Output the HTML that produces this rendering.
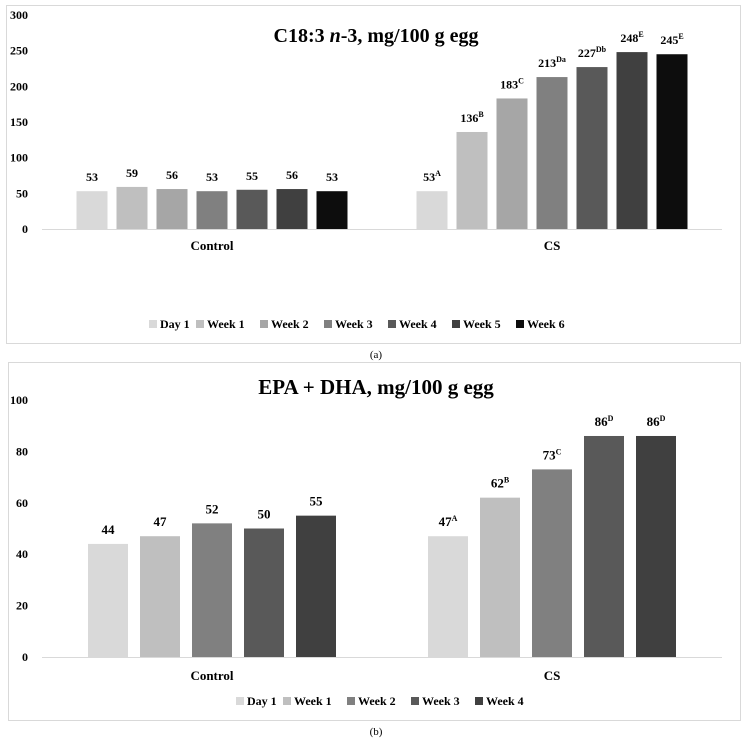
<!DOCTYPE html>
<html><head><meta charset="utf-8"><style>
body{margin:0;background:#fff;}
svg{display:block;font-family:"Liberation Serif",serif;font-weight:bold;}
</style></head><body>
<svg id="svg" width="752" height="743" viewBox="0 0 752 743">
<rect x="6.5" y="5.5" width="734" height="338" fill="#fff" stroke="#d9d9d9"/>
<rect x="8.5" y="362.5" width="732" height="358" fill="#fff" stroke="#d9d9d9"/>
<text x="376" y="42" font-size="20" text-anchor="middle">C18:3 <tspan font-style="italic">n</tspan>-3, mg/100 g egg</text>
<text x="376" y="394" font-size="21" text-anchor="middle">EPA + DHA, mg/100 g egg</text>
<text x="376" y="358" font-size="11" font-weight="normal" text-anchor="middle">(a)</text>
<text x="376" y="735" font-size="11" font-weight="normal" text-anchor="middle">(b)</text>
<g id="ga"></g><g id="gb"></g>
</svg>
<script>
const groupsA = ["Control","CS"];
const seriesA = ["Day 1","Week 1","Week 2","Week 3","Week 4","Week 5","Week 6"];
const controlA = [53,59,56,53,55,56,53];
const csA = [53,136,183,213,227,248,245];
const csSupA = ["A","B","C","Da","Db","E","E"];
const ticksA = [0,50,100,150,200,250,300];
const colorsA = ["#d9d9d9","#bfbfbf","#a6a6a6","#808080","#595959","#404040","#0d0d0d"];

const groupsB = ["Control","CS"];
const seriesB = ["Day 1","Week 1","Week 2","Week 3","Week 4"];
const controlB = [44,47,52,50,55];
const csB = [47,62,73,86,86];
const csSupB = ["A","B","C","D","D"];
const ticksB = [0,20,40,60,80,100];
const colorsB = ["#d9d9d9","#bfbfbf","#808080","#595959","#404040"];

const NS="http://www.w3.org/2000/svg";
function mk(parent,tag,attrs,text){const e=document.createElementNS(NS,tag);for(const k in attrs)e.setAttribute(k,attrs[k]);if(text!==undefined)e.textContent=text;parent.appendChild(e);return e;}

function draw(g,cfg){
  const {groups,series,vals,sups,ticks,colors,y0,y1,vmax,x0,x1,barW,step,labelY,legendY,legendX,fs}=cfg;
  const y=v=>y0-(v/vmax)*(y0-y1);
  ticks.forEach(t=>{
    const e=mk(g,'text',{x:x0-14,y:y(t)+4,'font-size':12,'text-anchor':'end'},t);
    
    
  });
  const ax=mk(g,'line',{x1:x0,x2:x1,y1:y0+0.5,y2:y0+0.5,stroke:'#d9d9d9','stroke-width':1});
  
  
  const gw=(x1-x0)/groups.length;
  groups.forEach((gname,gi)=>{
    const cx=x0+gw*(gi+0.5);
    const lab=mk(g,'text',{x:cx,y:labelY,'font-size':13,'text-anchor':'middle'},gname);
    
    
    const arr=vals[gi];
    const n=arr.length;
    const start=cx-(n*step-(step-barW))/2;
    arr.forEach((v,i)=>{
      const bx=start+i*step;
      const r=mk(g,'rect',{x:bx,y:y(v),width:barW,height:y0-y(v),fill:colors[i]});
      
      
      const t=mk(g,'text',{x:bx+barW/2,y:y(v)-10,'font-size':fs,'text-anchor':'middle'});
      t.textContent=v;
      if(gi===1){mk(t,'tspan',{'font-size':8,dy:-5},sups[i]);}
      
      
    });
  });
  let lx=legendX;
  series.forEach((s,i)=>{
    const sq=mk(g,'rect',{x:lx,y:legendY-8,width:8,height:8,fill:colors[i]});
    
    
    const t=mk(g,'text',{x:lx+11,y:legendY,'font-size':12},s);
    
    
    lx+= s.length>5?64:47;
  });
}
draw(document.getElementById('ga'),{groups:groupsA,series:seriesA,vals:[controlA,csA],sups:csSupA,ticks:ticksA,colors:colorsA,
  y0:229,y1:15,vmax:300,x0:42,x1:722,barW:31,step:40,labelY:250,legendY:328,legendX:149,fs:12});
draw(document.getElementById('gb'),{groups:groupsB,series:seriesB,vals:[controlB,csB],sups:csSupB,ticks:ticksB,colors:colorsB,
  y0:657,y1:400,vmax:100,x0:42,x1:722,barW:40,step:52,labelY:680,legendY:705,legendX:236,fs:13});
</script>
</body></html>
